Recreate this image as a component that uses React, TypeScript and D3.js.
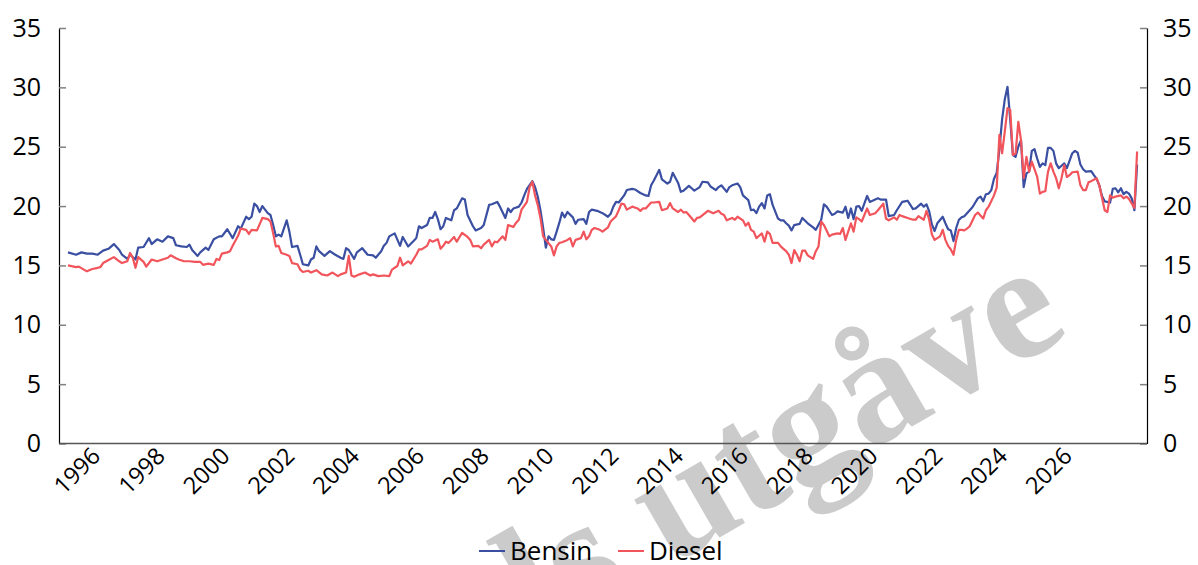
import React, { useEffect, useRef } from 'react';
import * as d3 from 'd3';

// month index counted from Jan 1995 (label years of the chart), values in kr/liter
const bensinMonths = [1, 4, 6, 8, 10, 12, 14, 16, 18, 20, 21, 23, 24, 26, 27, 29, 31, 32, 34, 36, 38, 40, 41, 43, 45, 46, 47, 49, 50, 52, 53, 55, 57, 58, 60, 62, 64, 65, 67, 68, 69, 70, 71, 72, 73, 75, 76, 77, 78, 79, 80, 82, 83, 84, 86, 87, 88, 90, 91, 92, 93, 94, 96, 98, 100, 102, 103, 104, 105, 107, 108, 110, 112, 114, 115, 117, 118, 119, 120, 122, 124, 125, 127, 129, 130, 131, 132, 134, 135, 136, 137, 138, 139, 140, 141, 143, 144, 145, 147, 148, 149, 151, 152, 154, 155, 157, 158, 160, 161, 163, 164, 165, 166, 168, 169, 170, 171, 173, 174, 175, 176, 177, 178, 179, 180, 181, 182, 183, 184, 185, 186, 188, 189, 190, 192, 193, 194, 195, 197, 199, 201, 202, 203, 204, 205, 207, 208, 210, 211, 213, 215, 216, 217, 218, 219, 220, 221, 223, 224, 225, 227, 228, 229, 231, 232, 233, 235, 236, 238, 239, 241, 242, 243, 245, 246, 247, 249, 250, 251, 253, 254, 255, 256, 257, 258, 259, 260, 261, 262, 264, 265, 266, 267, 268, 269, 270, 272, 273, 275, 277, 278, 280, 281, 282, 284, 285, 286, 288, 289, 290, 291, 292, 293, 294, 295, 297, 298, 301, 302, 304, 305, 307, 308, 310, 311, 312, 313, 314, 315, 317, 318, 319, 320, 321, 322, 323, 325, 326, 327, 328, 329, 330, 331, 332, 333, 335, 336, 338, 339, 340, 341, 342, 343, 344, 345, 346, 347, 348, 349, 350, 351, 352, 353, 354, 355, 356, 357, 358, 359, 360, 361, 362, 363, 364, 365, 366, 367, 368, 369, 370, 371, 373, 374, 375, 376, 377, 378, 380, 381, 382, 383, 384, 385, 387, 388, 389, 390, 391, 392, 393, 394, 395, 396, 397];
const bensinValues = [16.1, 15.9, 16.1, 16.0, 16.0, 15.9, 16.25, 16.4, 16.8, 16.3, 15.9, 15.55, 15.9, 15.5, 16.5, 16.55, 17.3, 16.8, 17.2, 17.0, 17.45, 17.3, 16.7, 16.6, 16.55, 16.75, 16.3, 15.8, 16.1, 16.5, 16.3, 17.2, 17.45, 17.45, 18.05, 17.3, 18.3, 18.1, 19.1, 18.9, 19.1, 20.2, 20.0, 19.5, 20.0, 19.4, 19.25, 18.4, 17.45, 17.6, 17.45, 18.8, 17.85, 16.55, 16.65, 15.9, 15.1, 15.0, 15.5, 15.65, 16.6, 16.2, 15.8, 16.2, 15.9, 15.65, 15.55, 16.45, 16.3, 15.55, 16.1, 16.45, 15.9, 15.85, 15.65, 16.2, 16.65, 16.9, 17.45, 17.7, 16.65, 17.4, 16.6, 17.05, 17.3, 18.3, 18.15, 18.4, 19.0, 19.0, 19.5, 18.9, 18.05, 18.3, 19.0, 18.8, 19.65, 19.8, 20.65, 20.55, 19.25, 18.3, 17.95, 18.15, 18.4, 20.1, 20.15, 20.35, 19.95, 19.0, 19.8, 19.5, 19.8, 19.95, 20.3, 20.9, 21.45, 22.1, 21.6, 20.8, 19.65, 18.15, 16.5, 17.45, 17.2, 17.15, 17.85, 18.6, 19.45, 19.05, 19.5, 19.05, 18.5, 18.85, 18.9, 18.5, 19.5, 19.7, 19.6, 19.4, 19.1, 19.35, 19.95, 20.35, 20.3, 20.9, 21.35, 21.45, 21.4, 21.1, 20.9, 20.85, 21.75, 22.15, 22.6, 23.05, 22.25, 21.9, 22.05, 22.8, 21.95, 21.2, 21.3, 21.7, 21.5, 21.3, 21.6, 22.05, 22.0, 21.65, 21.35, 21.6, 21.75, 21.2, 21.6, 21.75, 21.9, 21.6, 20.9, 20.5, 19.65, 19.7, 19.4, 19.95, 20.25, 19.8, 20.9, 21.0, 20.1, 18.95, 18.8, 18.8, 18.55, 18.35, 17.95, 18.4, 18.5, 19.0, 18.55, 18.2, 18.0, 18.85, 20.15, 19.95, 19.25, 19.35, 19.55, 19.45, 19.95, 19.0, 19.8, 18.9, 19.95, 20.0, 19.6, 20.85, 20.35, 20.65, 20.55, 20.55, 19.15, 19.25, 19.65, 20.35, 20.4, 20.45, 20.1, 19.75, 19.8, 20.2, 19.95, 20.15, 19.55, 18.45, 17.9, 18.55, 19.1, 18.55, 18.05, 17.95, 17.05, 18.15, 18.85, 19.05, 19.15, 19.65, 19.9, 20.65, 20.8, 20.4, 21.0, 21.05, 21.35, 22.3, 22.8, 24.8, 27.3, 29.0, 30.05, 27.3, 24.3, 24.15, 25.0, 25.55, 21.6, 22.75, 22.9, 24.65, 24.8, 24.0, 23.3, 23.6, 23.45, 24.9, 24.9, 24.65, 23.6, 23.2, 23.4, 23.6, 23.2, 24.45, 24.65, 24.5, 23.5, 23.1, 22.9, 22.95, 22.6, 22.3, 21.75, 20.85, 20.4, 20.3, 21.45, 21.5, 21.15, 21.5, 21.0, 21.2, 21.05, 20.65, 19.65, 23.5];

const dieselMonths = [1, 4, 5, 8, 10, 12, 13, 14, 16, 18, 20, 21, 23, 24, 25, 26, 27, 29, 30, 32, 34, 36, 38, 39, 41, 42, 44, 46, 48, 50, 51, 53, 55, 56, 57, 58, 60, 61, 62, 64, 65, 67, 68, 69, 71, 73, 75, 76, 77, 78, 79, 80, 82, 83, 84, 86, 87, 88, 90, 91, 93, 95, 97, 99, 101, 102, 104, 105, 106, 107, 109, 111, 113, 114, 116, 118, 120, 121, 123, 124, 125, 127, 128, 130, 131, 132, 134, 135, 136, 138, 139, 140, 141, 142, 144, 145, 147, 149, 150, 151, 153, 154, 155, 157, 158, 159, 160, 162, 163, 164, 166, 167, 168, 169, 171, 172, 173, 174, 175, 176, 177, 178, 180, 181, 182, 183, 184, 186, 187, 188, 189, 191, 192, 193, 194, 195, 196, 198, 199, 201, 202, 204, 205, 206, 207, 208, 210, 212, 213, 214, 215, 217, 218, 220, 221, 223, 224, 225, 227, 228, 229, 230, 231, 233, 234, 235, 237, 238, 239, 240, 242, 243, 244, 245, 247, 248, 249, 251, 252, 253, 254, 255, 256, 257, 258, 259, 260, 261, 262, 264, 265, 266, 267, 268, 269, 270, 271, 272, 273, 274, 275, 277, 278, 279, 280, 281, 283, 284, 286, 287, 288, 289, 291, 292, 293, 294, 295, 297, 298, 300, 301, 303, 304, 305, 307, 308, 309, 310, 312, 314, 315, 316, 318, 319, 320, 321, 322, 324, 325, 326, 327, 328, 329, 330, 331, 332, 333, 334, 335, 337, 338, 340, 341, 342, 344, 345, 346, 347, 348, 349, 350, 351, 352, 353, 354, 355, 356, 357, 358, 360, 361, 362, 363, 364, 365, 366, 367, 368, 369, 370, 371, 372, 373, 375, 376, 377, 378, 379, 380, 382, 383, 384, 385, 386, 387, 388, 389, 391, 392, 393, 394, 396, 397];
const dieselValues = [15.0, 14.86, 14.9, 14.5, 14.7, 14.8, 14.86, 15.2, 15.45, 15.7, 15.35, 15.2, 15.35, 16.05, 15.65, 14.8, 15.7, 15.3, 14.9, 15.5, 15.35, 15.5, 15.65, 15.85, 15.6, 15.5, 15.35, 15.35, 15.3, 15.3, 15.05, 15.15, 15.05, 15.55, 15.45, 16.0, 16.1, 16.2, 16.65, 17.5, 18.1, 18.0, 17.65, 18.0, 17.95, 19.0, 18.9, 18.7, 17.7, 16.6, 16.65, 16.05, 15.9, 15.8, 15.2, 15.1, 14.65, 14.45, 14.55, 14.4, 14.6, 14.25, 14.15, 14.4, 14.1, 14.25, 14.4, 15.8, 14.15, 14.05, 14.25, 14.4, 14.15, 14.25, 14.1, 14.15, 14.1, 14.65, 14.95, 15.65, 15.0, 15.35, 15.15, 15.9, 16.35, 16.35, 16.65, 17.15, 17.0, 17.2, 16.4, 16.65, 17.0, 16.9, 17.4, 17.0, 17.75, 17.4, 17.15, 16.6, 16.65, 16.45, 16.75, 17.15, 16.6, 17.0, 16.95, 17.45, 17.15, 18.4, 18.25, 18.6, 18.85, 19.7, 20.35, 21.6, 22.05, 20.9, 20.1, 19.0, 17.45, 17.15, 16.6, 15.85, 16.6, 16.9, 16.95, 17.15, 17.3, 16.6, 17.15, 17.3, 17.85, 17.2, 17.45, 18.0, 18.15, 18.0, 17.85, 18.2, 18.7, 19.15, 19.65, 20.2, 20.15, 19.7, 19.95, 19.8, 19.6, 19.8, 19.8, 20.3, 20.3, 20.35, 19.65, 19.8, 20.25, 19.8, 19.5, 19.7, 19.45, 19.5, 19.25, 18.7, 19.0, 19.05, 19.4, 19.6, 19.5, 19.4, 19.6, 19.35, 19.25, 18.8, 19.0, 18.85, 19.1, 18.8, 18.35, 18.6, 18.0, 17.85, 17.3, 17.5, 17.7, 17.0, 17.85, 17.65, 16.9, 16.9, 16.6, 16.4, 16.2, 15.9, 15.2, 16.3, 15.9, 15.35, 16.25, 16.25, 15.85, 15.55, 16.2, 16.6, 18.7, 18.4, 17.45, 17.6, 17.7, 17.65, 18.15, 17.15, 18.55, 17.85, 19.05, 18.9, 18.7, 19.8, 19.25, 19.4, 19.65, 20.2, 18.95, 18.8, 19.05, 18.85, 19.25, 19.15, 19.0, 18.85, 18.85, 19.15, 18.85, 19.6, 18.85, 17.6, 17.15, 17.45, 18.0, 17.15, 16.65, 16.35, 15.9, 17.15, 18.0, 18.0, 17.95, 18.1, 18.3, 19.25, 19.45, 18.95, 19.65, 19.95, 20.9, 21.55, 26.0, 24.45, 26.3, 28.25, 28.1, 24.3, 24.45, 27.1, 25.55, 22.35, 24.15, 22.9, 23.75, 22.45, 21.05, 21.2, 21.25, 22.9, 23.6, 22.9, 22.35, 21.5, 22.35, 23.45, 22.45, 22.6, 22.85, 22.9, 21.75, 21.35, 21.35, 22.0, 22.1, 22.35, 21.75, 20.7, 19.65, 19.5, 20.9, 20.7, 20.8, 20.9, 20.65, 20.8, 20.6, 19.85, 24.6];

const yearTicks = [1996, 1998, 2000, 2002, 2004, 2006, 2008, 2010, 2012, 2014, 2016, 2018, 2020, 2022, 2024, 2026];
const yTicks = [0, 5, 10, 15, 20, 25, 30, 35];
const seriesNames = ['Bensin', 'Diesel'];
const seriesColors = ['#3a4fa1', '#f2545b'];
const watermark = 'Førebels utgåve';

const font = '"Open Sans", "Noto Sans", sans-serif';

export default function App() {
  const ref = useRef<SVGSVGElement>(null);

  useEffect(() => {
    const svg = d3.select(ref.current);
    svg.selectAll('*').remove();

    const x = d3.scaleLinear().domain([-2.33, 400.67]).range([59, 1147]);
    const y = d3.scaleLinear().domain([0, 35]).range([443.5, 28]);

    // watermark behind everything
    svg.append('text')
      .attr('transform', 'translate(1072,334) rotate(-30)')
      .attr('text-anchor', 'end')
      .attr('font-family', '"Liberation Serif", serif')
      .attr('font-weight', 'bold')
      .attr('font-size', 164)
      .attr('fill', '#cbcbcb')
      .text(watermark);

    // y axes
    const leftAxis = d3.axisLeft(y).tickValues(yTicks).tickSizeInner(-7).tickSizeOuter(0).tickPadding(18);
    const rightAxis = d3.axisRight(y).tickValues(yTicks).tickSizeInner(-7).tickSizeOuter(0).tickPadding(16);
    const gl = svg.append('g').attr('transform', 'translate(59,0)').call(leftAxis);
    const gr = svg.append('g').attr('transform', 'translate(1147,0)').call(rightAxis);
    for (const g of [gl, gr]) {
      g.select('.domain').attr('stroke', '#000').attr('stroke-width', 1.2);
      g.selectAll('.tick line').attr('stroke', '#808080').attr('stroke-width', 1.5);
      g.selectAll('.tick text').attr('font-family', font).attr('font-size', 25).attr('fill', '#000');
    }

    // x axis
    svg.append('line')
      .attr('x1', 59).attr('x2', 1147)
      .attr('y1', y(0)).attr('y2', y(0))
      .attr('stroke', '#555').attr('stroke-width', 1.5);
    svg.append('g').selectAll('text')
      .data(yearTicks)
      .join('text')
      .attr('transform', d => `translate(${x((d - 1995) * 12) + 4},${y(0) + 14}) rotate(-45)`)
      .attr('text-anchor', 'end')
      .attr('font-family', font)
      .attr('font-size', 23.5)
      .attr('fill', '#000')
      .text(d => d);

    // lines
    const line = d3.line<[number, number]>().x(d => x(d[0])).y(d => y(d[1]));
    const series = [d3.zip(bensinMonths, bensinValues), d3.zip(dieselMonths, dieselValues)];
    series.forEach((s, i) => {
      svg.append('path')
        .datum(s as [number, number][])
        .attr('d', line)
        .attr('fill', 'none')
        .attr('stroke', seriesColors[i])
        .attr('stroke-width', 2.2)
        .attr('stroke-linejoin', 'round');
    });

    // legend
    const legend = svg.append('g').attr('transform', 'translate(479,551)');
    const offsets = [0, 139];
    seriesNames.forEach((name, i) => {
      const item = legend.append('g').attr('transform', `translate(${offsets[i]},0)`);
      item.append('line').attr('x1', 0).attr('x2', 26).attr('y1', 0).attr('y2', 0)
        .attr('stroke', seriesColors[i]).attr('stroke-width', 2);
      item.append('text').attr('x', 31).attr('y', 9)
        .attr('font-family', font).attr('font-size', 26).attr('fill', '#000')
        .text(name);
    });
  }, []);

  return (
    <div style={{ position: 'absolute', left: 0, top: 0 }}>
      <svg ref={ref} width={1198} height={565} style={{ display: 'block', background: '#fff' }} />
    </div>
  );
}
